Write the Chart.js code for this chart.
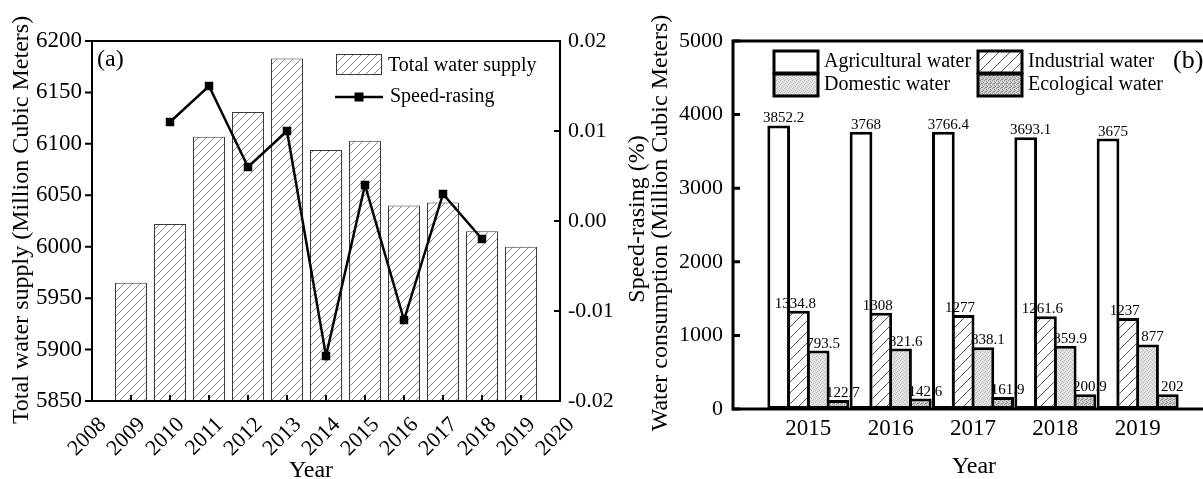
<!DOCTYPE html>
<html><head><meta charset="utf-8">
<script src="https://cdn.jsdelivr.net/npm/chart.js@4.4.1/dist/chart.umd.min.js"></script>
<style>
html,body{margin:0;padding:0;background:#fff;overflow:hidden;width:1203px;height:479px;}
#wa{position:absolute;left:0;top:0;width:700px;height:479px;}
#wb{position:absolute;left:600px;top:0;width:620px;height:479px;}
canvas{display:block}
</style></head><body>
<div id="wa"><canvas id="ca" width="700" height="479"></canvas></div>
<div id="wb"><canvas id="cb" width="620" height="479"></canvas></div>
<script>
// ---- Panel (a) data ----
const yearsA = [2009, 2010, 2011, 2012, 2013, 2014, 2015, 2016, 2017, 2018, 2019];
const totalSupply = [5965, 6022, 6107, 6131, 6183, 6094, 6103, 6040, 6043, 6015, 6000];
const speedYears = [2010, 2011, 2012, 2013, 2014, 2015, 2016, 2017, 2018];
const speedRasing = [0.011, 0.015, 0.006, 0.010, -0.015, 0.004, -0.011, 0.003, -0.002];
// ---- Panel (b) data ----
const yearsB = [2015, 2016, 2017, 2018, 2019];
const agricultural = [3852.2, 3768, 3766.4, 3693.1, 3675];
const industrial = [1334.8, 1308, 1277, 1261.6, 1237];
const domestic = [793.5, 821.6, 838.1, 859.9, 877];
const ecological = [122.7, 142.6, 161.9, 200.9, 202];

const F = '"Liberation Serif", "Times New Roman", serif';
const ctxA = document.getElementById('ca').getContext('2d');
const ctxB = document.getElementById('cb').getContext('2d');

function hatch(ctx, size, color, lw, bg) {
  const c = document.createElement('canvas'); c.width = c.height = size;
  const g = c.getContext('2d');
  g.fillStyle = bg; g.fillRect(0, 0, size, size);
  g.strokeStyle = color; g.lineWidth = lw;
  g.beginPath();
  g.moveTo(-1, size + 1); g.lineTo(size + 1, -1);
  g.moveTo(-size / 2 - 1, size / 2 + 1); g.lineTo(size / 2 + 1, -size / 2 - 1);
  g.moveTo(size / 2 - 1, size * 1.5 + 1); g.lineTo(size * 1.5 + 1, size / 2 - 1);
  g.stroke();
  return ctx.createPattern(c, 'repeat');
}
function stipple(ctx, size, bg, dot, pts) {
  const c = document.createElement('canvas'); c.width = c.height = size;
  const g = c.getContext('2d');
  g.fillStyle = bg; g.fillRect(0, 0, size, size);
  g.fillStyle = dot;
  pts.forEach(p => g.fillRect(p[0], p[1], 1, 1));
  return ctx.createPattern(c, 'repeat');
}
const hatchA = hatch(ctxA, 8, '#8a8a8a', 1, '#ffffff');
const hatchInd = hatch(ctxB, 11, '#555555', 1, '#ffffff');
const dotDom = stipple(ctxB, 4, '#e2e2e2', '#bcbcbc', [[0, 0], [2, 1], [1, 3], [3, 2]]);
const dotEco = stipple(ctxB, 4, '#d4d4d4', '#8a8a8a', [[0, 0], [2, 1], [1, 3], [3, 2], [2, 3]]);

function vTitle(ctx, text, x, y) {
  ctx.save(); ctx.translate(x, y); ctx.rotate(-Math.PI / 2);
  ctx.textAlign = 'center'; ctx.textBaseline = 'alphabetic';
  ctx.fillText(text, 0, 0); ctx.restore();
}

// ---- Panel (a) ----
const plugA = {
  id: 'decorA',
  afterDraw(chart) {
    const { ctx, chartArea: a, scales } = chart;
    ctx.save();
    ctx.strokeStyle = '#000'; ctx.lineWidth = 2;
    ctx.beginPath();
    scales.y.ticks.forEach(t => { const p = scales.y.getPixelForValue(t.value); ctx.moveTo(a.left - 7, p); ctx.lineTo(a.left, p); });
    scales.y2.ticks.forEach(t => { const p = scales.y2.getPixelForValue(t.value); ctx.moveTo(a.right - 6, p); ctx.lineTo(a.right, p); });
    scales.x.ticks.forEach(t => { const p = scales.x.getPixelForValue(t.value); ctx.moveTo(p, a.bottom - 6); ctx.lineTo(p, a.bottom); });
    ctx.stroke();
    ctx.strokeRect(a.left, a.top, a.right - a.left, a.bottom - a.top);
    // titles
    ctx.fillStyle = '#000';
    ctx.font = '24px ' + F;
    vTitle(ctx, 'Total water supply (Million Cubic Meters)', 27.5, 220);
    vTitle(ctx, 'Speed-rasing (%)', 644, 219);
    ctx.textAlign = 'center'; ctx.textBaseline = 'alphabetic';
    ctx.fillText('Year', 311, 477);
    // panel label
    ctx.font = '24px ' + F; ctx.textAlign = 'left';
    ctx.fillText('(a)', 97, 66);
    // legend
    ctx.font = '20px ' + F;
    ctx.fillStyle = hatchA; ctx.fillRect(336, 54, 46, 21);
    ctx.strokeStyle = '#3a3a3a'; ctx.lineWidth = 1; ctx.strokeRect(336.5, 54.5, 45, 20);
    ctx.fillStyle = '#000';
    ctx.fillText('Total water supply', 388, 71);
    ctx.strokeStyle = '#000'; ctx.lineWidth = 2.5;
    ctx.beginPath(); ctx.moveTo(335, 97); ctx.lineTo(383, 97); ctx.stroke();
    ctx.fillRect(354.5, 92.5, 9, 9);
    ctx.fillText('Speed-rasing', 390, 102);
    ctx.restore();
  }
};

new Chart(ctxA, {
  type: 'bar',
  data: {
    datasets: [
      { type: 'line', label: 'Speed-rasing', data: speedYears.map((x, i) => ({ x, y: speedRasing[i] })),
        yAxisID: 'y2', borderColor: '#000', borderWidth: 2.5, pointStyle: 'rect', pointRadius: 6,
        pointBackgroundColor: '#000', pointBorderColor: '#000', pointBorderWidth: 0, tension: 0, order: 0 },
      { type: 'bar', label: 'Total water supply', data: yearsA.map((x, i) => ({ x, y: totalSupply[i] })),
        yAxisID: 'y', backgroundColor: hatchA, borderColor: '#3a3a3a', borderWidth: 1, borderSkipped: false,
        base: 5850, barPercentage: 0.82, categoryPercentage: 1, order: 1 }
    ]
  },
  options: {
    responsive: false, animation: false, devicePixelRatio: 1,
    layout: { padding: { top: 41, left: 0, right: 0, bottom: 0 } },
    plugins: { legend: { display: false }, tooltip: { enabled: false } },
    scales: {
      x: { type: 'linear', min: 2008, max: 2020, offset: false,
        grid: { display: false, drawTicks: false }, border: { display: false },
        ticks: { stepSize: 1, autoSkip: false, maxRotation: 45, minRotation: 45, padding: 11, labelOffset: 11,
          color: '#000', font: { family: F, size: 22 }, callback: v => String(v) },
        afterFit: s => { s.height = 78; } },
      y: { position: 'left', min: 5850, max: 6200,
        grid: { display: false, drawTicks: false }, border: { display: false },
        ticks: { stepSize: 50, padding: 10, color: '#000', font: { family: F, size: 23 }, callback: v => String(v) },
        afterFit: s => { s.width = 92; } },
      y2: { position: 'right', min: -0.02, max: 0.02,
        grid: { display: false, drawTicks: false }, border: { display: false },
        ticks: { stepSize: 0.01, padding: 8, color: '#000', font: { family: F, size: 22 },
          callback: v => (Math.abs(v) < 1e-9 ? 0 : v).toFixed(2) },
        afterFit: s => { s.width = 140; } }
    }
  },
  plugins: [plugA]
});

// ---- Panel (b) ----
const labelOffsets = [5, -3, 5, 5];
const plugB = {
  id: 'decorB',
  afterDatasetsDraw(chart) {
    const { ctx } = chart;
    ctx.save();
    ctx.font = '15px ' + F; ctx.fillStyle = '#000';
    ctx.textAlign = 'center'; ctx.textBaseline = 'alphabetic';
    chart.data.datasets.forEach((ds, di) => {
      chart.getDatasetMeta(di).data.forEach((el, i) => {
        ctx.fillText(String(ds.data[i].y), el.x + labelOffsets[di], el.y - 3);
      });
    });
    ctx.restore();
  },
  afterDraw(chart) {
    const { ctx, chartArea: a, scales } = chart;
    ctx.save();
    ctx.strokeStyle = '#000'; ctx.lineWidth = 3;
    ctx.beginPath();
    scales.y.ticks.forEach(t => { const p = scales.y.getPixelForValue(t.value); ctx.moveTo(a.left, p); ctx.lineTo(a.left + 7, p); });
    ctx.stroke();
    ctx.strokeRect(a.left, a.top, a.right - a.left, a.bottom - a.top);
    ctx.fillStyle = '#000';
    ctx.font = '24px ' + F;
    vTitle(ctx, 'Water consumption (Million Cubic Meters)', 66.5, 223);
    ctx.textAlign = 'center'; ctx.textBaseline = 'alphabetic';
    ctx.fillText('Year', 374, 473);
    // legend
    const boxes = [
      [174, 51, '#ffffff', 'Agricultural water'],
      [378, 51, hatchInd, 'Industrial water'],
      [174, 74, dotDom, 'Domestic water'],
      [378, 74, dotEco, 'Ecological water']
    ];
    ctx.textAlign = 'left';
    ctx.font = '20px ' + F;
    boxes.forEach(b => {
      ctx.fillStyle = b[2]; ctx.fillRect(b[0], b[1], 44, 22);
      ctx.strokeStyle = '#000'; ctx.lineWidth = 3; ctx.strokeRect(b[0], b[1], 44, 22);
      ctx.fillStyle = '#000'; ctx.fillText(b[3], b[0] + 50, b[1] + 16);
    });
    ctx.font = '26px ' + F;
    ctx.fillText('(b)', 573, 68);
    ctx.restore();
  }
};

function bds(label, vals, bg) {
  return { label, data: yearsB.map((x, i) => ({ x, y: vals[i] })), backgroundColor: bg,
    borderColor: '#000', borderWidth: 3, borderSkipped: false, categoryPercentage: 0.96, barPercentage: 1.15 };
}

new Chart(ctxB, {
  type: 'bar',
  data: {
    datasets: [
      bds('Agricultural water', agricultural, '#ffffff'),
      bds('Industrial water', industrial, hatchInd),
      bds('Domestic water', domestic, dotDom),
      bds('Ecological water', ecological, dotEco)
    ]
  },
  options: {
    responsive: false, animation: false, devicePixelRatio: 1,
    layout: { padding: { top: 41, left: 0, right: 7, bottom: 0 } },
    plugins: { legend: { display: false }, tooltip: { enabled: false } },
    scales: {
      x: { type: 'linear', min: 2014.085, max: 2019.915, offset: false,
        grid: { display: false, drawTicks: false }, border: { display: false },
        ticks: { stepSize: 1, includeBounds: false, autoSkip: false, maxRotation: 0, minRotation: 0, padding: 6,
          color: '#000', font: { family: F, size: 23 }, callback: v => String(v) },
        afterFit: s => { s.height = 70; } },
      y: { position: 'left', min: 0, max: 5000,
        grid: { display: false, drawTicks: false }, border: { display: false },
        ticks: { stepSize: 1000, padding: 10, color: '#000', font: { family: F, size: 22 }, callback: v => String(v) },
        afterFit: s => { s.width = 133; } }
    }
  },
  plugins: [plugB]
});
</script>
</body></html>
